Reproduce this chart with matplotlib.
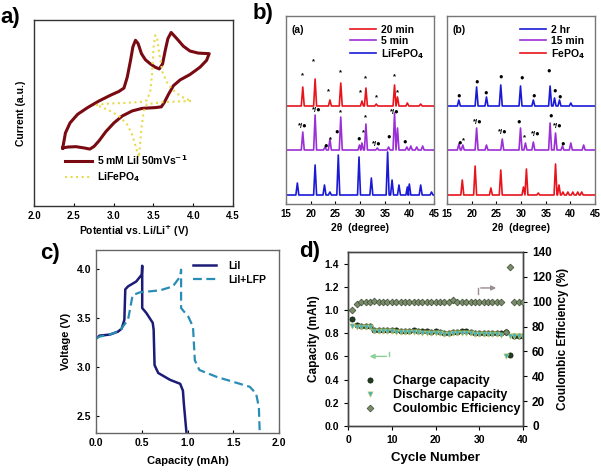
import numpy as np
import matplotlib
matplotlib.use('Agg')
import matplotlib.pyplot as plt

plt.rcParams['font.family'] = ['Liberation Sans', 'DejaVu Sans']
plt.rcParams['font.weight'] = 'bold'
plt.rcParams['axes.labelweight'] = 'bold'

# ---------------- panel a : CV ----------------
lii_v = [2.361, 2.424, 2.527, 2.631, 2.702, 2.756, 2.818, 2.901, 3.005, 3.109, 3.233, 3.358,
         3.524, 3.599, 3.636, 3.690, 3.752, 3.836, 3.960, 4.085, 4.168, 4.201, 4.064, 3.960,
         3.877, 3.794, 3.723, 3.682, 3.649, 3.615, 3.574, 3.524, 3.462, 3.400, 3.350, 3.308,
         3.275, 3.242, 3.213, 3.171, 3.130, 3.067, 2.963, 2.818, 2.673, 2.548, 2.453, 2.395, 2.361]
lii_i = [3.12, 3.17, 3.19, 3.12, 3.06, 3.21, 3.51, 3.99, 4.47, 4.84, 5.11, 5.25,
         5.29, 5.33, 5.56, 6.01, 6.47, 6.78, 7.07, 7.46, 7.83, 8.19, 8.22, 8.33,
         8.59, 9.00, 9.33, 9.00, 8.37, 7.64, 7.37, 7.46, 7.64, 7.86, 8.19, 8.73,
         8.91, 8.55, 7.83, 6.92, 6.34, 6.16, 5.96, 5.65, 5.29, 4.93, 4.47, 3.93, 3.12]
lfp_v = [2.777, 2.943, 3.150, 3.358, 3.420, 3.462, 3.483, 3.503, 3.524, 3.545, 3.574, 3.615,
         3.669, 3.732, 3.836, 3.919, 3.981, 3.815, 3.607, 3.420, 3.379, 3.350, 3.329, 3.316,
         3.283, 3.233, 3.171, 3.067, 2.943, 2.839, 2.777]
lfp_i = [5.43, 5.51, 5.54, 5.60, 5.69, 6.20, 7.10, 8.55, 9.18, 9.09, 8.19, 7.19,
         6.65, 6.29, 5.92, 5.74, 5.65, 5.62, 5.58, 5.47, 5.11, 4.20, 3.12, 2.61,
         3.12, 3.84, 4.38, 4.84, 5.14, 5.33, 5.43]

# ---------------- panel b : XRD ----------------
xrd_a = {
    '20 min': ([18.4, 20.9, 23.9, 26.1, 30.4, 31.2, 33.3, 37.0, 37.6, 39.6, 42.3],
               [19, 27, 6, 23, 5, 18, 2, 21, 9, 3, 2], 98, '#e8141c'),
    '5 min': ([18.4, 20.9, 22.9, 23.9, 26.1, 29.9, 30.4, 31.2, 33.5, 35.8, 37.0, 37.6, 39.5, 40.3, 41.5, 42.7],
              [18, 35, 3, 11, 33, 5, 7, 26, 2, 3, 37, 22, 3, 4, 3, 4], 54, '#9b2fd6'),
    'LiFePO$_4$': ([17.3, 20.9, 22.8, 23.9, 25.6, 29.8, 32.3, 35.6, 36.5, 37.9, 39.6, 40.0, 42.3, 44.5],
                   [12, 30, 10, 3, 40, 38, 17, 43, 15, 10, 8, 11, 10, 3], 9, '#1a1ad6'),
}
xrd_b = {
    '2 hr': ([17.4, 21.0, 23.0, 25.9, 29.9, 32.5, 35.9, 36.8, 37.8, 40.1],
             [6, 19, 9, 21, 20, 6, 20, 8, 6, 3], 98, '#1a1ad6'),
    '15 min': ([17.4, 18.2, 21.0, 23.0, 26.2, 29.9, 30.9, 32.5, 35.9, 37.0, 38.4, 40.1, 42.7],
               [6, 5, 22, 5, 11, 22, 7, 8, 27, 17, 4, 7, 5], 54, '#9b2fd6'),
    'FePO$_4$': ([18.1, 20.7, 23.9, 25.9, 30.5, 31.1, 33.5, 37.0, 37.7, 38.5, 39.5, 40.5, 41.5, 42.3],
                 [15, 29, 7, 25, 8, 26, 2, 31, 10, 3, 3, 3, 3, 3], 9, '#e8141c'),
}
marks_a = [(18.4, 128, '*'), (20.6, 142, '*'), (23.7, 112, '*'), (26.1, 131, '*'), (30.0, 111, '*'),
           (31.2, 125, '*'), (33.3, 106, '*'), (37.0, 127, '*'), (37.6, 111, '*'),
           (18.5, 77, '*/●'), (21.2, 93, '*/●'), (23.1, 58, '●'), (24.0, 64, '*'), (25.2, 72, '●'),
           (26.1, 91, '*'), (29.7, 65, '●'), (30.7, 71, '*'), (31.2, 86, '*'), (33.5, 60, '*/●'),
           (35.9, 67, '●'), (37.1, 92, '*/●'), (39.1, 62, '●')]
marks_b = [(17.4, 108, '●'), (21.0, 122, '●'), (22.9, 111, '●'), (25.9, 127, '●'), (30.1, 126, '●'),
           (32.5, 108, '●'), (35.7, 133, '●'), (36.8, 113, '●'), (37.9, 107, '●'),
           (17.5, 61, '●'), (18.3, 63, '*'), (21.2, 81, '*/●'), (26.3, 71, '*/●'), (29.6, 82, '●'),
           (30.7, 66, '*'), (33.0, 69, '*/●'), (36.1, 88, '●'), (37.5, 77, '*/●'), (38.4, 60, '●')]

# ---------------- panel c : voltage profiles ----------------
lii_cap = [0.0, 0.04, 0.15, 0.24, 0.28, 0.31, 0.32, 0.35, 0.44, 0.50, 0.505, 0.505, 0.55, 0.62,
           0.63, 0.64, 0.68, 0.81, 0.92, 0.95, 0.96, 0.99]
lii_volt = [3.29, 3.32, 3.33, 3.36, 3.39, 3.48, 3.79, 3.82, 3.87, 3.94, 4.03, 3.60, 3.55, 3.45,
            3.38, 3.02, 2.94, 2.87, 2.83, 2.76, 2.63, 2.32]
lfp_cap = [0.0, 0.04, 0.15, 0.26, 0.35, 0.40, 0.48, 0.70, 0.84, 0.92, 0.93, 0.93, 1.01, 1.06,
           1.08, 1.13, 1.32, 1.50, 1.68, 1.75, 1.78, 1.79]
lfp_volt = [3.29, 3.31, 3.33, 3.37, 3.48, 3.73, 3.76, 3.78, 3.82, 3.92, 3.99, 3.60, 3.51, 3.41,
            3.07, 2.97, 2.90, 2.85, 2.80, 2.73, 2.59, 2.32]

# ---------------- panel d : cycling ----------------
cycles = np.arange(1, 41)
charge = [0.92, 0.87, 0.865, 0.865, 0.865, 0.83, 0.83, 0.825, 0.825, 0.825, 0.825, 0.82, 0.82, 0.82,
          0.825, 0.82, 0.815, 0.815, 0.81, 0.815, 0.81, 0.805, 0.805, 0.81, 0.81, 0.815, 0.815, 0.81,
          0.805, 0.805, 0.80, 0.80, 0.80, 0.80, 0.80, 0.81, 0.61, 0.78, 0.78, 0.775]
discharge = [0.86, 0.855, 0.855, 0.855, 0.855, 0.82, 0.82, 0.815, 0.815, 0.815, 0.81, 0.81, 0.81, 0.81,
             0.81, 0.81, 0.805, 0.805, 0.80, 0.80, 0.80, 0.795, 0.795, 0.80, 0.80, 0.80, 0.80, 0.80,
             0.795, 0.795, 0.79, 0.79, 0.79, 0.79, 0.785, 0.60, 0.78, 0.775, 0.775, 0.77]
ce = [93.5, 98.5, 99.5, 99.8, 100, 100.5, 100, 99.8, 100, 100, 100, 100, 100, 100, 100, 100, 99.8, 100,
      100, 100, 100, 100, 100, 101, 100, 100, 100, 100, 100, 100, 100, 100, 100, 100, 100, 75.5, 128,
      100, 100, 99.5]

W, H = 601, 472
fig = plt.figure(figsize=(W / 100, H / 100), dpi=100)


def box(x0, y0, x1, y1):
    return fig.add_axes([x0 / W, 1 - y1 / H, (x1 - x0) / W, (y1 - y0) / H])


def style(ax, col='#555555'):
    for s in ax.spines.values():
        s.set_color(col)
        s.set_linewidth(1)


def pattern(pos, hts, base, w=0.3):
    xs, ys = [15.0], [base]
    for p, h in sorted(zip(pos, hts)):
        xs += [p - w, p, p + w]
        ys += [base, base + h, base]
    xs.append(45.0)
    ys.append(base)
    return xs, ys


# a
ax = box(34, 20, 233, 206)
ax.plot(lii_v, lii_i, color='#7a0a12', lw=2.2, label='5 mM LiI 50mVs$^{-1}$')
ax.plot(lfp_v, lfp_i, color='#e8da4c', lw=1.5, ls=':', label='LiFePO$_4$')
ax.set_xlim(2.0, 4.5)
ax.set_ylim(0, 10)
ax.set_xticks(np.arange(2.0, 4.51, 0.5))
ax.set_yticks([])
ax.tick_params(direction='in', labelsize=7, length=2)
ax.set_xlabel('Potential vs. Li/Li$^{+}$ (V)', fontsize=7.5, labelpad=2)
ax.set_ylabel('Current (a.u.)', fontsize=7.5, labelpad=6)
ax.legend(loc='lower left', bbox_to_anchor=(0.13, 0.09), frameon=False, fontsize=7.5,
          handlelength=2.6, handletextpad=0.5, labelspacing=0.3, borderpad=0)
style(ax, '#333333')

# b
for (x0, x1, data, marks, tag) in [(286, 434, xrd_a, marks_a, '(a)'), (447, 595, xrd_b, marks_b, '(b)')]:
    ax = box(x0, 16, x1, 204)
    for name, (pos, hts, base, col) in data.items():
        xs, ys = pattern(pos, hts, base)
        ax.plot(xs, ys, color=col, lw=1.2, label=name)
    for (px, py, t) in marks:
        ax.text(px, py, t, fontsize=5.5, ha='center', va='center', color='black')
    ax.set_xlim(15, 45)
    ax.set_ylim(0, 188)
    ax.set_xticks(range(15, 46, 5))
    ax.set_yticks([])
    ax.tick_params(direction='in', labelsize=7, length=2)
    ax.set_xlabel('2θ  (degree)', fontsize=7.5, labelpad=3)
    ax.text(0.04, 0.95, tag, transform=ax.transAxes, fontsize=7.5, va='top')
    ax.legend(loc='upper right', bbox_to_anchor=(0.97, 0.98), frameon=False, fontsize=7.5,
              handlelength=2.5, handletextpad=0.5, labelspacing=0.1, borderpad=0)
    style(ax, '#777777')

# c
ax = box(96, 250, 279, 433)
ax.plot(lii_cap, lii_volt, color='#1c1c78', lw=1.8, label='LiI')
ax.plot(lfp_cap, lfp_volt, color='#2a8db5', lw=1.6, ls=(0, (4, 2)), label='LiI+LFP')
ax.set_xlim(0, 2.0)
ax.set_ylim(2.33, 4.19)
ax.set_xticks(np.arange(0, 2.01, 0.5))
ax.set_yticks([2.5, 3.0, 3.5, 4.0])
ax.tick_params(direction='in', labelsize=7.5, length=2)
ax.set_xlabel('Capacity (mAh)', fontsize=8, labelpad=6)
ax.set_ylabel('Voltage (V)', fontsize=8, labelpad=4)
ax.legend(loc='upper left', bbox_to_anchor=(0.5, 0.97), frameon=False, fontsize=7.5,
          handlelength=2.2, handletextpad=1.2, labelspacing=0.4, borderpad=0)
style(ax, '#666666')

# d
ax = box(348, 252, 523, 426)
ax2 = ax.twinx()
h1 = ax.scatter(cycles, charge, s=14, marker='o', color='#1f3d1f', edgecolor='#0a1a0a', lw=0.5,
                zorder=3, label='Charge capacity')
h2 = ax.scatter(cycles, discharge, s=14, marker='v', color='#3ab0c8', edgecolor='#c8c860', lw=0.5,
                zorder=3, label='Discharge capacity')
h3 = ax2.scatter(cycles, ce, s=12, marker='D', color='#7a8c6c', edgecolor='#3a4a30', lw=0.5,
                 zorder=3, label='Coulombic Efficiency')
ax.set_xlim(0, 40)
ax.set_ylim(0, 1.5)
ax2.set_ylim(0, 140)
ax.set_xticks(range(0, 41, 10))
ax.set_yticks(np.arange(0, 1.41, 0.2))
ax2.set_yticks(range(0, 141, 20))
ax.tick_params(labelsize=7.5, length=3)
ax2.tick_params(labelsize=8.5, length=3)
ax.set_xlabel('Cycle Number', fontsize=9.5, labelpad=5)
ax.set_ylabel('Capacity (mAh)', fontsize=8.5, labelpad=3)
ax2.set_ylabel('Coulombic Efficiency (%)', fontsize=8.5, labelpad=4)
ax.legend(handles=[h1, h2, h3], loc='lower left', bbox_to_anchor=(0.02, 0.03), frameon=False,
          fontsize=9, handletextpad=0.8, labelspacing=0.15, borderpad=0)
ax.plot([29.7, 29.7], [1.138, 1.19], color='#9a8c90', lw=1)
ax.annotate('', xy=(34.5, 1.19), xytext=(29.7, 1.19),
            arrowprops=dict(arrowstyle='-|>', color='#9a8c90', lw=1, mutation_scale=7))
ax.plot([9.4, 9.4], [0.64, 0.60], color='#8ccf98', lw=1)
ax.annotate('', xy=(4.3, 0.60), xytext=(9.4, 0.60),
            arrowprops=dict(arrowstyle='-|>', color='#8ccf98', lw=1, mutation_scale=7))
style(ax, '#444444')
style(ax2, '#444444')

# panel letters
for t, x, y in [('a)', 0, 17), ('b)', 253, 13), ('c)', 40, 253), ('d)', 299, 251)]:
    fig.text(x / W, 1 - y / H, t, fontsize=16, fontweight='heavy', va='center', ha='left')

fig.savefig('out.png', dpi=100)
